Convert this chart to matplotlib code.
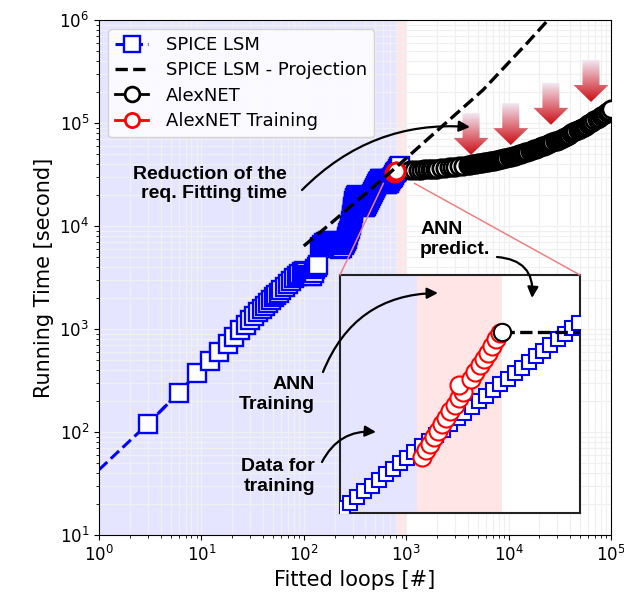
import numpy as np
import matplotlib
matplotlib.use("Agg")
import matplotlib.pyplot as plt
from matplotlib.patches import Polygon, ConnectionPatch
from matplotlib.colors import LinearSegmentedColormap

# ---------------- data ----------------
spice_x = [1, 3, 6, 9, 12, 15, 18, 21, 24, 27, 30, 33, 36, 39, 42, 45, 48, 51, 54, 57, 60,
           65, 70, 75, 80, 85, 90, 95, 100, 105, 110, 115, 120, 125, 130, 135, 138,
           144, 151, 158, 165, 172, 180, 189, 197, 206, 216, 226, 236, 247, 255,
           261, 264, 267, 270, 273, 276, 280, 283, 286, 289, 291, 293, 295, 297, 299, 301, 303, 305, 307,
           309, 311, 313, 316, 323, 331,
           338, 346, 354, 362, 370, 379, 387, 396, 405, 414, 424, 433, 443, 453, 463, 474, 485, 496,
           507, 519, 530, 542, 555, 567, 580, 593, 607, 621, 635, 649, 664, 679, 695, 711, 727, 743,
           760, 777, 795, 813, 832, 851, 870]
spice_y = [43, 120, 240, 370, 490, 600, 720, 840, 970, 1100, 1230, 1350, 1460, 1580, 1690, 1800, 1920, 2030, 2140, 2250, 2370,
           2560, 2750, 2940, 3100, 3260, 3400, 3550, 3680, 3600, 3350, 3250, 3300, 3500, 3800, 4000, 4180,
           6250, 6540, 6840, 6990, 7150, 7150, 6990, 6690, 6400, 6120, 5980, 6120, 6540, 6840,
           7150, 7480, 7820, 8180, 8550, 8940, 9350, 9780, 10230, 10690, 11180, 11700, 12230, 12790, 13380, 13990, 14620, 15300, 16000,
           16730, 17490, 18290, 18910, 19560, 20220,
           19560, 18700, 17890, 17100, 16360, 15810, 15460, 15460, 15810, 16360, 17100, 17890, 18700, 19560, 20450, 21390, 22360, 23380,
           24450, 25570, 26740, 27650, 28280, 28600, 28280, 27650, 26740, 26150, 25570, 25570, 25860, 26440, 27350, 28280, 29240, 30240,
           31270, 32340, 33440, 34580, 35760, 36980, 38230]

proj_x = [100, 200, 400, 621, 1000, 2000, 5620, 10000, 15500, 24300, 30000]
proj_y = [6400, 11400, 20600, 29900, 45500, 84000, 209000, 385000, 611000, 1000000, 1260000]

alex_x = [1100, 1200, 1300, 1400, 1500, 1600, 1700, 1800, 1900, 2000,
          2200, 2400, 2600, 2800, 3000,
          3300, 3600,
          4000, 4200, 4400, 4600, 4800, 5000,
          5250, 5500, 5750, 6000,
          6300, 6600, 6900, 7200, 7500,
          7900, 8300, 8700, 9100, 9500,
          10000, 10500, 11000, 11500, 12000,
          12600, 13200, 13800, 14500, 15200,
          16000, 16800, 17600, 18400, 19300,
          20200, 21200, 22200, 23300, 24400,
          25600, 26800, 28100, 29500, 30900,
          32400, 34000, 35600, 37300, 39100,
          41000, 43000, 45000, 47200, 49500,
          51900, 54400, 57000, 59800, 62700,
          65700, 68900, 72200, 75700, 79400,
          83200, 87200, 91400, 95800, 100000]
alex_y = [35000, 35100, 35200, 35350, 35450, 35600, 35700, 35800, 35950, 36100,
          36400, 36700, 37000, 37300, 37600,
          38000, 38500,
          39200, 39500, 39800, 40000, 40300, 40500,
          40800, 41100, 41400, 41700,
          42000, 42400, 42700, 43100, 43400,
          43900, 44400, 44900, 45400, 45900,
          46500, 47100, 47700, 48300, 48900,
          49600, 50300, 51000, 51800, 52600,
          53500, 54400, 55300, 56200, 57200,
          58200, 59300, 60300, 61400, 62500,
          63700, 64900, 66200, 67600, 69000,
          70500, 72100, 73700, 75400, 77200,
          79100, 81000, 83000, 85100, 87300,
          89600, 92000, 94500, 97200, 100000,
          102900, 106000, 109100, 112400, 115900,
          119500, 123300, 127300, 131500, 135500]

train_x = [765, 768, 770, 772, 775, 777, 779, 781, 784, 786, 788, 790, 792, 794, 795]
train_y = [32500, 32700, 32800, 33000, 33100, 33300, 33400, 33500, 33700, 33800, 33900, 34000, 34100, 34200, 34300]

# inset (zoomed view)
inset_spice_x = [608, 625, 643, 661, 679, 697, 715, 733, 751, 768, 786, 804, 822, 840, 858, 876, 894,
                 911, 929, 947, 965, 983, 1001, 1019, 1037, 1055, 1072, 1090, 1108, 1126, 1144, 1162, 1180, 1198]
inset_spice_y = [26280, 26610, 26940, 27270, 27600, 27940, 28270, 28600, 28930, 29260, 29590, 29920, 30250,
                 30580, 30910, 31240, 31580, 31910, 32240, 32570, 32900, 33230, 33560, 33890, 34220, 34550,
                 34880, 35220, 35550, 35880, 36210, 36540, 36870, 37200]
inset_train_x = [804, 814, 825, 835, 845, 856, 866, 876, 887, 897, 907, 898, 928, 938, 949, 959, 969, 980, 990, 1000]
inset_train_y = [29300, 29680, 30070, 30450, 30840, 31220, 31600, 31990, 32370, 32760, 33140, 33520, 33910,
                 34290, 34680, 35060, 35440, 35830, 36210, 36600]
inset_alex_x = [1006]
inset_alex_y = [36670]

zoom_x = (600, 1200)
zoom_y = (26000, 40000)
data_span = (1, 792)
train_span = (792, 1005)

reduction_x = [4300, 10500, 25900, 63800]
reduction_tip_y = [49000, 61000, 96000, 160000]

assert len(spice_x) == len(spice_y) and len(alex_x) == len(alex_y)

# ---------------- figure ----------------
fig = plt.figure(figsize=(6.24, 5.99), dpi=100)
pos = [99 / 624, 1 - 535 / 599, 512 / 624, 515 / 599]
ax = fig.add_axes(pos)
ax.set_xscale("log")
ax.set_yscale("log")
ax.set_xlim(1, 1e5)
ax.set_ylim(10, 1e6)

ax.axvspan(*data_span, color="blue", alpha=0.1, lw=0, zorder=0.2)
ax.axvspan(*train_span, color="red", alpha=0.1, lw=0, zorder=0.2)
ax.set_axisbelow(True)
ax.grid(True, which="both", color="#f0f0f0", lw=0.9)

ax.plot(spice_x, spice_y, ls="--", color="blue", lw=2.2, zorder=2.5)
l_spice, = ax.plot(spice_x[1:], spice_y[1:], ls="--", color="blue", lw=2.2, marker="s", ms=13,
                   mfc="white", mec="blue", mew=1.7, zorder=3, label="SPICE LSM")
l_proj, = ax.plot(proj_x, proj_y, ls="--", color="black", lw=2.4, zorder=6,
                  label="SPICE LSM - Projection")
l_alex, = ax.plot(alex_x, alex_y, ls="-", color="black", lw=2, marker="o", ms=12.5,
                  mfc="white", mec="black", mew=2.0, zorder=4, label="AlexNET")
l_train, = ax.plot(train_x, train_y, ls="-", color="red", lw=2, marker="o", ms=12,
                   mfc="white", mec="red", mew=2, zorder=5, label="AlexNET Training")

ax.set_xlabel("Fitted loops [#]", fontsize=15)
ax.set_ylabel("Running Time [second]", fontsize=15)
ax.tick_params(labelsize=12)

leg = ax.legend(handles=[l_spice, l_proj, l_alex, l_train], loc="upper left", fontsize=13,
                markerscale=0.85, handlelength=1.8, handletextpad=1.0, framealpha=0.8,
                labelspacing=0.4, borderpad=0.4)
leg.set_zorder(10)

# ---------------- inset ----------------
ax_in = ax.inset_axes([(340 - 99) / 512, (535 - 513) / 515, 240 / 512, 238 / 515])
ax_in.set_xlim(*zoom_x)
ax_in.set_ylim(*zoom_y)
ax_in.axvspan(zoom_x[0], data_span[1], color="blue", alpha=0.1, lw=0)
ax_in.axvspan(*train_span, color="red", alpha=0.1, lw=0)
ax_in.plot(inset_spice_x, inset_spice_y, "-", color="blue", lw=1.5, marker="s", ms=9.5,
           mfc="white", mec="blue", mew=1.5, zorder=3)
ax_in.plot(inset_train_x, inset_train_y, "-", color="red", lw=1.5, marker="o", ms=13,
           mfc="white", mec="red", mew=1.5, zorder=4)
ax_in.plot([inset_alex_x[0], zoom_x[1]], [inset_alex_y[0], inset_alex_y[0]], "--", color="black",
           lw=2.4, zorder=4.5)
ax_in.plot(inset_alex_x, inset_alex_y, "o", ms=12.5, mfc="white", mec="black", mew=1.5, zorder=5)
ax_in.set_xticks([])
ax_in.set_yticks([])
for s in ax_in.spines.values():
    s.set_linewidth(1.5)
    s.set_color("#222222")

for xa, xb in [(zoom_x[0], 0), (zoom_x[1], 1)]:
    con = ConnectionPatch(xyA=(xa, zoom_y[0]), coordsA=ax.transData,
                          xyB=(xb, 1), coordsB=ax_in.transAxes,
                          color="#f08080", lw=1.1, zorder=2)
    fig.add_artist(con)

# ---------------- overlay for annotations ----------------
ov = fig.add_axes(pos, zorder=3)
ov.set_axis_off()

cmap = LinearSegmentedColormap.from_list("grad", [(0.80, 0.05, 0.08), (0.95, 0.93, 0.97)])
grad = np.linspace(0, 1, 128).reshape(-1, 1)
L, hl, sw, hw = 0.408, 0.165, 0.083, 0.171
for xv, tv in zip(reduction_x, reduction_tip_y):
    lx, lt = np.log10(xv), np.log10(tv)
    top = lt + L
    verts = [(lx - sw, top), (lx + sw, top), (lx + sw, lt + hl), (lx + hw, lt + hl),
             (lx, lt), (lx - hw, lt + hl), (lx - sw, lt + hl)]
    poly = Polygon(verts, closed=True, transform=ov.transData, facecolor="none", edgecolor="none")
    ov.add_patch(poly)
    im = ov.imshow(grad, cmap=cmap, origin="lower", extent=[lx - hw, lx + hw, lt, top],
                   aspect="auto", zorder=2, interpolation="bilinear")
    im.set_clip_path(poly)
ov.set_xlim(0, 5)
ov.set_ylim(1, 6)

tfont = dict(family="Liberation Sans", fontweight="bold", fontsize=14)
ov.text(0.3672, 0.6816, "Reduction of the\nreq. Fitting time", transform=ov.transAxes,
        ha="right", va="center", multialignment="right", **tfont)
ov.text(0.4219, 0.2728, "ANN\nTraining", transform=ov.transAxes,
        ha="right", va="center", multialignment="right", **tfont)
ov.text(0.4219, 0.1136, "Data for\ntraining", transform=ov.transAxes,
        ha="right", va="center", multialignment="right", **tfont)
ov.text(0.627, 0.5738, "ANN\npredict.", transform=ov.transAxes,
        ha="left", va="center", multialignment="left", **tfont)

arrows = [((0.3965, 0.6699), (0.7246, 0.7922), -0.23),
          ((0.4375, 0.3165), (0.6621, 0.4699), -0.33),
          ((0.4355, 0.1417), (0.5410, 0.2000), -0.33),
          ((0.7773, 0.5398), (0.8457, 0.4602), -0.5)]
for start, end, rad in arrows:
    ov.annotate("", xy=end, xytext=start, xycoords="axes fraction", textcoords="axes fraction",
                arrowprops=dict(arrowstyle="-|>", color="black", lw=1.6, shrinkA=0, shrinkB=0,
                                mutation_scale=16, connectionstyle=f"arc3,rad={rad}"))

fig.savefig("out.png", dpi=100)
